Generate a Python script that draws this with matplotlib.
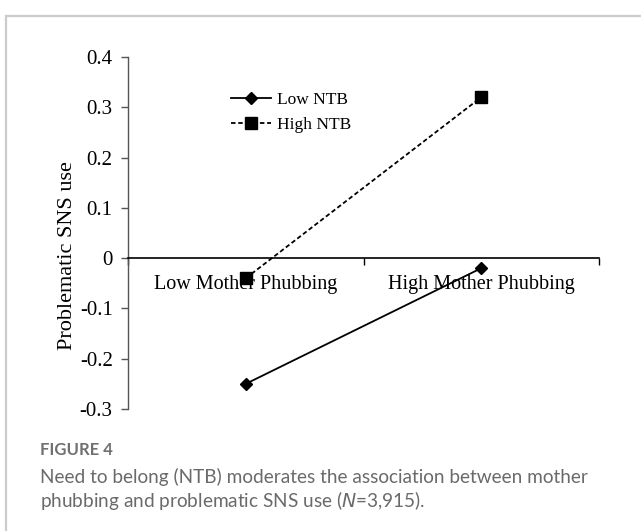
import matplotlib
matplotlib.use("Agg")
import matplotlib.pyplot as plt
from matplotlib.patches import Rectangle

categories = ["Low Mother Phubbing", "High Mother Phubbing"]
low_ntb = [-0.25, -0.02]
high_ntb = [-0.04, 0.32]
series_labels = ["Low NTB", "High NTB"]
yticks = [-0.3, -0.2, -0.1, 0, 0.1, 0.2, 0.3, 0.4]
ytick_labels = ["-0.3", "-0.2", "-0.1", "0", "0.1", "0.2", "0.3", "0.4"]
caption_title = "FIGURE 4"
caption_line1 = "Need to belong (NTB) moderates the association between mother"
caption_line2 = "phubbing and problematic SNS use ("

W, H = 641, 531
fig = plt.figure(figsize=(W / 100, H / 100), dpi=100)

# panel border (top and left visible)
fig.patches.append(Rectangle((6 / W, -0.2), 1.2, (1 - 16 / H) + 0.2,
                             transform=fig.transFigure, fill=False,
                             edgecolor="#cccccc", linewidth=1.6))

ax = fig.add_axes([128 / W, 1 - 409 / H, 471 / W, 352 / H])
x = [1, 2]
serif = ["Liberation Serif", "DejaVu Serif"]

ax.plot(x, low_ntb, color="black", lw=1.3, marker="D", markersize=6.5,
        label=series_labels[0], clip_on=False)
ax.plot(x, high_ntb, color="black", lw=1.3, ls=(0, (2.5, 1.5)), marker="s",
        markersize=8, label=series_labels[1], clip_on=False)

ax.set_xlim(0.5, 2.5)
ax.set_ylim(-0.3, 0.4)
for s in ["top", "right"]:
    ax.spines[s].set_visible(False)
ax.spines["left"].set_color("#555555")
ax.spines["left"].set_linewidth(1.0)
ax.spines["bottom"].set_position(("data", 0))
ax.spines["bottom"].set_color("black")
ax.spines["bottom"].set_linewidth(1.2)

ax.set_yticks(yticks)
ax.set_yticklabels(ytick_labels, fontfamily=serif, fontsize=15)
ax.tick_params(axis="y", direction="out", length=5, width=1.0, color="#555555", pad=6)

ax.set_xticks(x)
ax.set_xticklabels(categories, fontfamily=serif, fontsize=14.5)
ax.tick_params(axis="x", which="major", length=0, pad=12)
ax.set_xticks([0.5, 1.5, 2.5], minor=True)
ax.tick_params(axis="x", which="minor", direction="out", length=5, width=1.0)

fig.text(67 / W, 1 - 256 / H, "Problematic SNS use", rotation=90, ha="center",
         va="center", fontfamily=serif, fontsize=16)

leg = ax.legend(loc="upper left", bbox_to_anchor=(222 / W, 1 - 83 / H),
                bbox_transform=fig.transFigure, frameon=False,
                prop={"family": serif, "size": 12.5}, handlelength=2.35,
                handletextpad=0.3, labelspacing=0.5, borderpad=0)

cap = ["Lato", "DejaVu Sans"]
fig.text(40 / W, 1 - 450 / H, caption_title, ha="left", va="center",
         fontfamily=cap, fontsize=12, fontweight="bold", color="#707070")
fig.text(40 / W, 1 - 477 / H, caption_line1, ha="left", va="center",
         fontfamily=cap, fontsize=13.7, color="#6a6a6a")
fig.text(40 / W, 1 - 501 / H,
         caption_line2 + r"$\it{N}$" + "=3,915).", ha="left", va="center",
         fontfamily=cap, fontsize=13.7, color="#6a6a6a")

fig.savefig("out.png", dpi=100)
